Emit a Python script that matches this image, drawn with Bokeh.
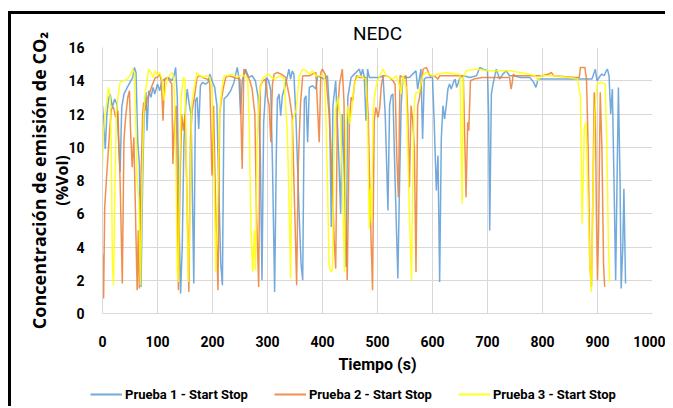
from bokeh.plotting import figure
from bokeh.models import LinearAxis, FixedTicker, Legend, LegendItem, Range1d
from bokeh.embed import file_html
from bokeh.resources import INLINE

# ---------------- data ----------------
series_names = ["Prueba 1 - Start Stop", "Prueba 2 - Start Stop", "Prueba 3 - Start Stop"]

t1 = [0, 2, 5, 8, 11, 14, 18, 22, 26, 29, 32, 35, 39, 45, 50, 55, 58, 61, 64, 67, 70, 73, 76, 79, 81, 84, 88, 92, 95, 100,
      104, 108, 114, 120, 126, 130, 133, 136, 139, 142, 145, 148, 151, 154, 158, 161, 164, 166, 169, 172, 175, 178, 182, 187,
      192, 195, 199, 204, 208, 211, 215, 218, 221, 227, 233, 239, 245, 248, 251, 254, 260, 266, 272, 278, 283, 287, 290, 293,
      298, 302, 306, 309, 313, 316, 318, 321, 324, 327, 333, 339, 342, 345, 348, 352, 357, 361, 364, 367, 370, 373, 376, 382,
      388, 391, 397, 403, 409, 413, 416, 419, 424, 430, 433, 436, 440, 443, 446, 452, 458, 464, 467, 470, 473, 476, 479, 482,
      485, 492, 498, 504, 510, 514, 519, 522, 525, 528, 532, 537, 540, 543, 546, 552, 558, 564, 570, 573, 576, 579, 582, 585,
      589, 595, 600, 603, 607, 610, 613, 616, 619, 622, 625, 628, 631, 634, 638, 641, 644, 647, 650, 656, 668, 680, 686, 692,
      700, 702, 704, 707, 710, 716, 722, 728, 734, 740, 747, 760, 777, 784, 788, 792, 800, 830, 860, 880, 890, 896, 899, 905,
      908, 912, 916, 918, 921, 924, 927, 930, 933, 936, 938, 941, 943, 946, 948, 951]
v1 = [12.5, 11.6, 9.9, 12.0, 12.9, 13.2, 12.4, 12.9, 12.6, 10.5, 8.5, 12.4, 13.2, 13.6, 13.9, 14.2, 14.8, 14.5, 10.4, 9.0,
      1.6, 8.0, 12.4, 13.3, 11.0, 13.4, 13.0, 13.6, 13.2, 13.8, 13.4, 14.0, 14.1, 14.2, 14.0, 14.3, 14.8, 13.0, 6.0, 1.2,
      4.0, 10.3, 12.4, 13.5, 12.5, 12.0, 6.0, 1.8, 12.8, 13.0, 11.1, 13.7, 13.9, 13.8, 13.9, 14.4, 14.0, 13.6, 12.5, 8.0,
      3.0, 1.7, 12.9, 13.1, 13.4, 13.9, 14.8, 14.2, 12.0, 14.0, 14.7, 14.2, 14.3, 14.0, 13.0, 9.5, 2.0, 11.5, 14.2, 14.0,
      13.4, 9.0, 1.3, 9.5, 12.9, 13.2, 11.9, 13.1, 13.8, 14.7, 14.1, 14.6, 14.4, 11.5, 6.5, 3.0, 2.0, 12.9, 13.1, 10.3,
      13.6, 13.7, 13.5, 14.3, 14.2, 14.1, 14.3, 12.0, 5.2, 12.5, 14.0, 9.0, 6.0, 12.0, 8.0, 2.8, 13.0, 14.2, 14.4, 14.6,
      14.7, 14.3, 14.7, 14.2, 11.6, 14.7, 14.2, 14.2, 14.2, 14.2, 14.3, 12.0, 6.2, 12.5, 13.1, 13.2, 8.0, 2.1, 7.6, 12.5,
      14.1, 14.2, 14.2, 14.4, 14.6, 13.5, 14.1, 14.7, 10.5, 14.1, 14.2, 14.2, 14.2, 11.6, 7.4, 9.5, 1.9, 10.5, 12.5, 11.7,
      12.5, 13.5, 13.8, 13.5, 13.9, 14.1, 13.6, 13.9, 14.2, 14.3, 14.2, 14.3, 14.8, 14.7, 14.6, 12.0, 5.0, 13.2, 13.8, 14.7,
      14.1, 14.4, 14.6, 14.3, 14.3, 14.2, 14.2, 13.9, 13.6, 14.1, 14.1, 14.1, 14.1, 14.1, 14.1, 14.7, 14.0, 14.3, 14.4, 14.3,
      14.6, 14.7, 14.3, 12.0, 13.5, 8.0, 2.0, 9.0, 13.6, 8.0, 1.5, 4.0, 7.5, 1.8]

t2 = [0, 2, 4, 8, 12, 16, 20, 24, 28, 32, 36, 39, 42, 46, 49, 51, 54, 57, 60, 63, 65, 67, 70, 73, 75, 78, 81, 85, 90, 96,
      100, 104, 107, 110, 113, 118, 122, 126, 128, 131, 134, 136, 138, 141, 144, 147, 150, 153, 157, 160, 163, 167, 172, 176,
      182, 190, 195, 199, 202, 206, 210, 213, 216, 220, 224, 230, 240, 250, 254, 257, 262, 268, 272, 277, 280, 284, 287, 292,
      296, 300, 303, 306, 309, 312, 318, 325, 333, 340, 345, 349, 353, 356, 360, 364, 370, 376, 382, 388, 394, 397, 400, 406,
      412, 415, 418, 421, 424, 427, 431, 436, 439, 442, 445, 449, 452, 455, 458, 462, 467, 473, 479, 483, 487, 491, 494, 497,
      501, 504, 507, 510, 516, 522, 528, 532, 535, 538, 541, 546, 552, 555, 558, 561, 564, 567, 570, 573, 576, 580, 583, 589,
      595, 603, 610, 613, 620, 631, 640, 650, 656, 659, 661, 664, 666, 669, 675, 690, 700, 720, 740, 743, 745, 747, 750, 780,
      800, 812, 816, 820, 860, 867, 869, 877, 880, 883, 886, 889, 892, 894, 896, 898, 900, 902, 905, 908, 911, 913]
v2 = [3.6, 0.9, 6.4, 8.5, 10.5, 12.3, 12.4, 11.8, 12.2, 8.0, 1.8, 10.4, 11.8, 13.0, 13.4, 11.0, 8.8, 10.6, 6.0, 1.4,
      5.0, 1.5, 8.0, 12.0, 12.7, 12.2, 12.9, 13.2, 13.7, 14.2, 14.2, 14.4, 14.0, 11.6, 14.1, 14.2, 14.0, 13.8, 9.0, 11.5,
      12.5, 7.0, 1.4, 8.0, 12.0, 11.0, 12.0, 8.0, 1.3, 10.5, 12.2, 13.0, 14.2, 14.3, 14.2, 14.1, 14.0, 8.3, 12.5, 6.0,
      1.4, 12.0, 12.8, 13.6, 14.2, 14.3, 14.2, 14.1, 8.7, 14.7, 14.4, 14.0, 13.5, 12.0, 6.0, 1.6, 13.7, 14.0, 14.1, 13.0,
      12.5, 10.3, 13.8, 14.4, 14.5, 14.4, 14.2, 13.0, 11.8, 6.8, 1.7, 9.0, 12.6, 14.3, 14.3, 14.3, 14.4, 14.5, 10.3, 14.5,
      14.7, 14.3, 12.0, 10.0, 8.0, 4.5, 2.7, 12.0, 13.8, 14.7, 12.8, 6.0, 2.0, 11.5, 13.0, 12.8, 13.8, 14.3, 14.2, 14.2,
      14.2, 12.0, 6.0, 1.4, 11.6, 12.4, 11.8, 12.4, 13.7, 14.3, 14.3, 14.2, 14.0, 13.8, 9.5, 7.0, 14.3, 14.2, 14.3, 12.0,
      7.6, 12.5, 11.6, 10.0, 2.5, 12.5, 12.9, 13.9, 14.7, 14.8, 14.3, 14.3, 14.1, 14.3, 14.3, 14.3, 14.3, 14.3, 14.3, 10.0,
      7.0, 11.5, 11.0, 14.0, 14.1, 14.2, 14.2, 14.2, 14.2, 13.5, 13.9, 14.4, 14.3, 14.3, 14.3, 14.4, 14.5, 14.3, 14.2, 14.2,
      14.8, 14.8, 14.1, 10.0, 3.0, 1.6, 8.0, 13.3, 12.5, 6.0, 2.0, 5.0, 13.3, 10.0, 3.0, 1.6]

t3 = [0, 2, 4, 7, 11, 14, 16, 18, 20, 22, 25, 28, 32, 38, 45, 50, 55, 58, 61, 63, 66, 69, 72, 75, 78, 81, 84, 88, 92, 96,
      100, 104, 108, 112, 115, 118, 122, 126, 130, 133, 136, 138, 140, 143, 147, 150, 153, 156, 159, 162, 167, 172, 177, 182,
      190, 195, 199, 203, 206, 209, 213, 217, 221, 228, 236, 244, 250, 258, 264, 267, 270, 273, 276, 278, 281, 284, 287, 292,
      298, 302, 308, 313, 318, 324, 330, 336, 339, 342, 345, 349, 352, 358, 364, 370, 376, 382, 388, 395, 403, 406, 409, 412,
      415, 418, 421, 424, 428, 433, 436, 440, 443, 446, 450, 453, 458, 463, 467, 473, 479, 482, 485, 487, 489, 492, 495, 499,
      504, 510, 516, 528, 534, 540, 543, 546, 552, 555, 558, 562, 564, 567, 570, 576, 582, 589, 600, 610, 625, 640, 650, 652,
      654, 656, 661, 680, 700, 720, 740, 760, 787, 792, 797, 820, 850, 864, 869, 872, 874, 876, 879, 882, 886, 889, 892, 895,
      899, 906, 914, 917, 920, 922]
v3 = [8.8, 11.0, 11.8, 12.5, 13.6, 13.0, 10.0, 3.0, 1.7, 6.0, 12.0, 13.0, 13.9, 14.0, 14.1, 14.3, 14.7, 14.5, 11.0, 8.0,
      6.8, 1.7, 8.0, 12.0, 13.3, 14.0, 14.7, 14.5, 14.2, 14.6, 14.3, 14.5, 14.1, 12.8, 13.6, 14.2, 14.3, 14.5, 14.1, 10.0,
      2.5, 1.9, 8.0, 13.0, 14.2, 14.1, 8.0, 1.9, 6.0, 12.6, 13.6, 14.5, 14.3, 14.2, 14.3, 14.2, 13.5, 8.0, 2.5, 6.0,
      12.0, 13.5, 14.3, 14.3, 14.4, 14.2, 14.3, 14.3, 14.1, 11.0, 5.0, 2.5, 5.0, 2.6, 10.0, 12.6, 13.6, 14.2, 14.3, 14.4,
      14.2, 14.1, 14.2, 14.3, 14.1, 11.0, 7.0, 2.1, 11.5, 12.0, 12.2, 14.3, 14.7, 14.6, 14.4, 14.6, 14.3, 14.3, 14.3, 12.2,
      8.0, 3.0, 2.5, 2.6, 10.0, 12.3, 13.0, 11.6, 8.0, 2.5, 11.5, 12.5, 11.4, 12.2, 13.8, 14.2, 14.3, 14.2, 14.1, 11.6,
      5.1, 7.5, 5.5, 12.0, 13.2, 13.9, 14.3, 14.7, 14.3, 14.1, 14.3, 13.7, 13.2, 14.3, 13.6, 10.0, 6.0, 2.0, 8.0, 12.6,
      13.3, 13.3, 14.3, 14.5, 14.3, 14.4, 14.5, 14.4, 14.4, 10.0, 6.6, 14.2, 14.6, 14.7, 14.6, 14.6, 14.6, 14.5, 14.3, 14.0,
      14.3, 14.3, 14.2, 14.1, 13.0, 5.4, 8.0, 11.2, 11.5, 8.0, 3.0, 1.3, 8.0, 12.0, 13.8, 13.9, 13.8, 10.0, 4.0, 1.9]

x_ticks = [0, 100, 200, 300, 400, 500, 600, 700, 800, 900, 1000]
y_ticks = [0, 2, 4, 6, 8, 10, 12, 14, 16]

# ---------------- styling ----------------
colors = ["#5B9BD5", "#ED7D31", "#FFFF00"]
NARROW = "Roboto"
WIDE = "Open Sans"
GRID = "#D9D9D9"

p = figure(width=665, height=376, x_range=Range1d(0, 1000), y_range=Range1d(0, 16),
           output_backend="svg", toolbar_location=None, title="NEDC",
           min_border_left=102, min_border_right=13, min_border_top=47, min_border_bottom=61)
p.border_fill_color = None
p.background_fill_color = "white"
p.outline_line_color = None
p.styles = {"box-shadow": "inset 8px 0 0 0 white, inset 0 11px 0 0 white, inset 11px 14px 0 0 black"}

p.title.text = "NEDC"
p.title.align = "center"
p.title.text_font = NARROW
p.title.text_font_size = "19px"
p.title.text_font_style = "normal"
p.title.text_color = "#000000"
p.title.standoff = 6

# grids
p.xgrid.ticker = FixedTicker(ticks=x_ticks)
p.ygrid.ticker = FixedTicker(ticks=y_ticks)
for g in (p.xgrid, p.ygrid):
    g.grid_line_color = GRID
    g.grid_line_width = 1

# x axis
xa = p.xaxis[0]
xa.ticker = FixedTicker(ticks=x_ticks)
xa.axis_label = "Tiempo (s)"
xa.axis_line_color = GRID
xa.major_tick_line_color = None
xa.minor_tick_line_color = None
xa.major_label_standoff = 16
xa.major_label_text_font = NARROW
xa.major_label_text_font_size = "14px"
xa.major_label_text_font_style = "bold"
xa.major_label_text_color = "#000000"
xa.axis_label_text_font = NARROW
xa.axis_label_text_font_size = "16px"
xa.axis_label_text_font_style = "bold"
xa.axis_label_text_color = "#000000"
xa.axis_label_standoff = 5

# y axis (inner: ticks + "(%Vol)")
ya = p.yaxis[0]
ya.ticker = FixedTicker(ticks=y_ticks)
ya.axis_label = "(%Vol)"
ya.axis_line_color = GRID
ya.major_tick_line_color = None
ya.minor_tick_line_color = None
ya.major_label_standoff = 12
ya.major_label_text_font = NARROW
ya.major_label_text_font_size = "14px"
ya.major_label_text_font_style = "bold"
ya.major_label_text_color = "#000000"
ya.axis_label_text_font = WIDE
ya.axis_label_text_font_size = "16px"
ya.axis_label_text_font_style = "bold"
ya.axis_label_text_color = "#000000"
ya.axis_label_standoff = -8

# outer y axis label line
ya2 = LinearAxis(ticker=FixedTicker(ticks=[]), axis_label="Concentración de emisión de CO₂")
ya2.axis_line_color = None
ya2.major_tick_line_color = None
ya2.minor_tick_line_color = None
ya2.major_label_standoff = 0
ya2.major_tick_out = 0
ya2.axis_label_text_font = WIDE
ya2.axis_label_text_font_size = "18px"
ya2.axis_label_text_font_style = "bold"
ya2.axis_label_text_color = "#000000"
ya2.axis_label_standoff = -2
p.add_layout(ya2, "left")

series_t = [t1, t2, t3]
series_v = [v1, v2, v3]
for t, v, c in zip(series_t, series_v, colors):
    p.line(t, v, line_color=c, line_width=1.5, line_alpha=0.85)

# ---------------- legend strip (separate root, same series) ----------------
pl = figure(width=665, height=30, x_range=Range1d(0, 1000), y_range=Range1d(100, 101),
            output_backend="svg", toolbar_location=None,
            x_axis_location=None, y_axis_location=None,
            min_border_left=0, min_border_right=0, min_border_top=0, min_border_bottom=0)
pl.border_fill_color = None
pl.background_fill_color = None
pl.outline_line_color = None
pl.xgrid.visible = False
pl.ygrid.visible = False
pl.styles = {"box-shadow": "inset 8px 0 0 0 white, inset 11px 0 0 0 black"}
leg_renderers = [pl.line(t, v, line_color=c, line_width=2, line_alpha=0.85)
                 for t, v, c in zip(series_t, series_v, colors)]
legend = Legend(items=[LegendItem(label=n, renderers=[r]) for n, r in zip(series_names, leg_renderers)],
                orientation="horizontal", location=(90, 4))
legend.border_line_color = None
legend.background_fill_alpha = 0
legend.padding = 0
legend.margin = 0
legend.spacing = 26
legend.glyph_width = 32
legend.glyph_height = 16
legend.label_standoff = 3
legend.label_text_font = NARROW
legend.label_text_font_size = "13px"
legend.label_text_font_style = "bold"
legend.label_text_color = "#000000"
pl.add_layout(legend, "center")

open("out.html", "w").write(file_html([p, pl], INLINE))
